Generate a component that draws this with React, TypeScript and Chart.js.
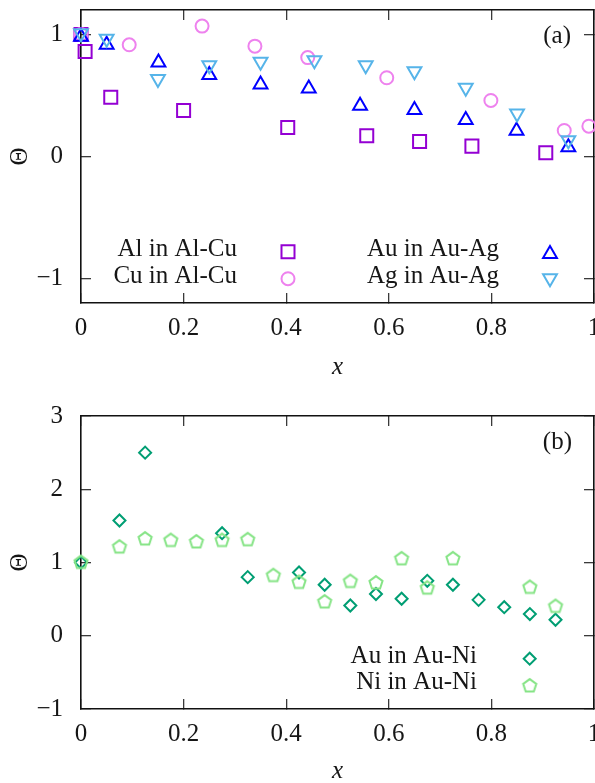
import React, { useEffect, useRef } from 'react';
import { Chart, registerables } from 'chart.js';
import { drawPoint } from 'chart.js/helpers';

Chart.register(...registerables);

// ---------- Panel (a) data ----------
const alX = [0, 0.008, 0.058, 0.2, 0.403, 0.557, 0.66, 0.762, 0.906];
const alY = [1.0, 0.86, 0.486, 0.377, 0.238, 0.17, 0.123, 0.085, 0.03];
const cuX = [0, 0.094, 0.236, 0.339, 0.442, 0.596, 0.799, 0.942, 0.99];
const cuY = [1.0, 0.915, 1.068, 0.904, 0.81, 0.645, 0.459, 0.213, 0.248];
const auAgX = [0, 0.05, 0.151, 0.25, 0.35, 0.444, 0.544, 0.65, 0.75, 0.849, 0.95];
const auAgY = [0.98, 0.915, 0.77, 0.667, 0.59, 0.558, 0.416, 0.38, 0.3, 0.21, 0.075];
const agX = [0, 0.05, 0.15, 0.25, 0.35, 0.455, 0.555, 0.65, 0.75, 0.85, 0.95];
const agY = [1.01, 0.965, 0.635, 0.748, 0.776, 0.789, 0.748, 0.699, 0.563, 0.352, 0.133];
const xTicksA = [0, 0.2, 0.4, 0.6, 0.8, 1];
const yTicksA = [-1, 0, 1];

// ---------- Panel (b) data ----------
const auNiX = [0, 0.075, 0.125, 0.275, 0.325, 0.425, 0.475, 0.525, 0.575, 0.625, 0.675, 0.725, 0.775, 0.825, 0.875, 0.925];
const auNiY = [1.0, 1.573, 2.5, 1.4, 0.8, 0.864, 0.696, 0.413, 0.57, 0.505, 0.75, 0.696, 0.49, 0.39, 0.296, 0.218];
const niX = [0, 0.075, 0.125, 0.175, 0.225, 0.275, 0.325, 0.375, 0.425, 0.475, 0.525, 0.575, 0.625, 0.675, 0.725, 0.875, 0.925];
const niY = [1.0, 1.21, 1.32, 1.3, 1.28, 1.3, 1.31, 0.82, 0.727, 0.46, 0.74, 0.72, 1.05, 0.65, 1.05, 0.66, 0.4];
const xTicksB = [0, 0.2, 0.4, 0.6, 0.8, 1];
const yTicksB = [-1, 0, 1, 2, 3];

const labelsA = ['Al in Al-Cu', 'Cu in Al-Cu', 'Au in Au-Ag', 'Ag in Au-Ag'];
const labelsB = ['Au in Au-Ni', 'Ni in Au-Ni'];

const FONT = "'Liberation Serif', 'Times New Roman', serif";
const TEXT = '#161616';
const FS = 25;

function makePentagon(color: string, R: number, lw: number) {
  const size = 20;
  const c = document.createElement('canvas');
  c.width = size;
  c.height = size;
  const ctx = c.getContext('2d')!;
  ctx.strokeStyle = color;
  ctx.lineWidth = lw;
  ctx.lineJoin = 'miter';
  ctx.beginPath();
  for (let i = 0; i < 5; i++) {
    const a = -Math.PI / 2 + (i * 2 * Math.PI) / 5;
    const px = size / 2 + R * Math.cos(a);
    const py = size / 2 + R * Math.sin(a);
    if (i === 0) ctx.moveTo(px, py);
    else ctx.lineTo(px, py);
  }
  ctx.closePath();
  ctx.stroke();
  return c;
}

const fmt = (v: any) => (Number(v) < 0 ? '\u2212' + Math.abs(Number(v)) : String(v));

function buildScales(xTicks: number[], yTicks: number[], yMin: number, yMax: number, xHeight: number, titlePad: number, titleLH: number) {
  const setTicks = (vals: number[]) => (scale: any) => {
    scale.ticks = vals.map((v) => ({ value: v }));
  };
  const grid = { drawOnChartArea: false, drawTicks: true, tickLength: -10, color: '#3a3a3a', lineWidth: 1.3 };
  const border = { display: true, color: '#111', width: 1.6 };
  const tickFont = { family: FONT, size: FS };
  return {
    x: {
      type: 'linear', position: 'bottom', min: 0, max: 1,
      afterBuildTicks: setTicks(xTicks),
      grid, border,
      ticks: { padding: 20, autoSkip: false, maxRotation: 0, minRotation: 0, font: tickFont, color: TEXT, callback: fmt },
      title: { display: true, text: 'x', color: TEXT, font: { family: FONT, size: FS, style: 'italic', lineHeight: titleLH }, padding: { top: 0, bottom: titlePad } },
      afterFit: (s: any) => { s.height = xHeight; s.paddingLeft = 0; s.paddingRight = 0; },
    },
    x2: {
      type: 'linear', position: 'top', min: 0, max: 1,
      afterBuildTicks: setTicks(xTicks),
      grid, border,
      ticks: { display: false },
      afterFit: (s: any) => { s.height = 0; s.paddingLeft = 0; s.paddingRight = 0; },
    },
    y: {
      type: 'linear', position: 'left', min: yMin, max: yMax,
      afterBuildTicks: setTicks(yTicks),
      grid, border,
      ticks: { padding: 28, autoSkip: false, font: tickFont, color: TEXT, callback: fmt },
      title: { display: true, text: 'Θ', color: TEXT, font: { family: FONT, size: FS, lineHeight: 1.2 }, padding: { top: 5, bottom: 0 } },
      afterFit: (s: any) => { s.width = 81; s.paddingTop = 0; s.paddingBottom = 0; },
    },
    y2: {
      type: 'linear', position: 'right', min: yMin, max: yMax,
      afterBuildTicks: setTicks(yTicks),
      grid, border,
      ticks: { display: false },
      afterFit: (s: any) => { s.width = 0; s.paddingTop = 0; s.paddingBottom = 0; },
    },
  };
}

type Entry = { ds: number; tx: number; ty: number; mx: number; my: number };

function keyPlugin(entries: Entry[], panel: string, px: number, py: number) {
  return {
    id: 'gpKey',
    afterDatasetsDraw(chart: any) {
      const ctx = chart.ctx as CanvasRenderingContext2D;
      ctx.save();
      ctx.font = `${FS}px ${FONT}`;
      ctx.textAlign = 'right';
      ctx.textBaseline = 'middle';
      ctx.fillStyle = TEXT;
      ctx.fillText(panel, px, py);
      entries.forEach((e) => {
        const ds = chart.data.datasets[e.ds];
        ctx.fillStyle = TEXT;
        ctx.fillText(ds.label, e.tx, e.ty);
        ctx.strokeStyle = ds.pointBorderColor;
        ctx.fillStyle = 'rgba(0,0,0,0)';
        ctx.lineWidth = ds.pointBorderWidth;
        drawPoint(ctx, {
          pointStyle: ds.pointStyle,
          rotation: ds.pointRotation || 0,
          radius: ds.pointRadius,
          borderWidth: ds.pointBorderWidth,
        } as any, e.mx, e.my);
      });
      ctx.restore();
    },
  };
}

const pts = (xs: number[], ys: number[]) => xs.map((x, i) => ({ x, y: ys[i] }));

function ds(label: string, data: any[], color: string, style: any, radius: number, order: number, rotation = 0) {
  return {
    label, data,
    showLine: false,
    pointStyle: style,
    pointRadius: radius,
    pointHoverRadius: radius,
    pointRotation: rotation,
    pointBorderWidth: 2,
    pointBorderColor: color,
    borderColor: color,
    pointBackgroundColor: 'rgba(0,0,0,0)',
    backgroundColor: 'rgba(0,0,0,0)',
    order,
    clip: false,
  };
}

export default function App() {
  const refA = useRef<HTMLCanvasElement>(null);
  const refB = useRef<HTMLCanvasElement>(null);

  useEffect(() => {
    const pent = makePentagon('#86e486', 6.9, 2);

    const chartA = new Chart(refA.current!, {
      type: 'scatter',
      data: {
        datasets: [
          ds(labelsA[0], pts(alX, alY), '#9400d3', 'rect', 9.2, 4),
          ds(labelsA[1], pts(cuX, cuY), '#ee82ee', 'circle', 6.5, 3),
          ds(labelsA[2], pts(auAgX, auAgY), '#0000ff', 'triangle', 8, 2),
          ds(labelsA[3], pts(agX, agY), '#56b4e9', 'triangle', 8, 1, 180),
        ] as any,
      },
      options: {
        responsive: false,
        animation: false,
        devicePixelRatio: 1,
        events: [],
        layout: { autoPadding: false, padding: { top: 10, right: 1, left: 0, bottom: 0 } },
        plugins: { legend: { display: false }, tooltip: { enabled: false } },
        scales: buildScales(xTicksA, yTicksA, -1.2, 1.2, 87, 10, 1) as any,
      },
      plugins: [keyPlugin([
        { ds: 0, tx: 237, ty: 249, mx: 288, my: 251.7 },
        { ds: 1, tx: 237, ty: 276, mx: 288, my: 278.7 },
        { ds: 2, tx: 499, ty: 249, mx: 550, my: 254 },
        { ds: 3, tx: 499, ty: 276, mx: 550, my: 278.3 },
      ], '(a)', 571, 36.5)],
    });

    const chartB = new Chart(refB.current!, {
      type: 'scatter',
      data: {
        datasets: [
          ds(labelsB[0], pts(auNiX, auNiY), '#009e73', 'rectRot', 6, 2),
          ds(labelsB[1], pts(niX, niY), '#86e486', pent, 7, 1),
        ] as any,
      },
      options: {
        responsive: false,
        animation: false,
        devicePixelRatio: 1,
        events: [],
        layout: { autoPadding: false, padding: { top: 26, right: 1, left: 0, bottom: 0 } },
        plugins: { legend: { display: false }, tooltip: { enabled: false } },
        scales: buildScales(xTicksB, yTicksB, -1, 3, 74, 0, 0.9) as any,
      },
      plugins: [keyPlugin([
        { ds: 0, tx: 477, ty: 266, mx: 529.7, my: 268.7 },
        { ds: 1, tx: 477, ty: 292.7, mx: 529.7, my: 296 },
      ], '(b)', 572, 52.8)],
    });

    return () => {
      chartA.destroy();
      chartB.destroy();
    };
  }, []);

  return (
    <div style={{ position: 'absolute', left: 0, top: 0, width: 595, height: 783, background: '#fff', overflow: 'hidden' }}>
      <canvas ref={refA} width={595} height={390} style={{ position: 'absolute', left: 0, top: 0, width: 595, height: 390 }} />
      <canvas ref={refB} width={595} height={393} style={{ position: 'absolute', left: 0, top: 390, width: 595, height: 393 }} />
    </div>
  );
}
